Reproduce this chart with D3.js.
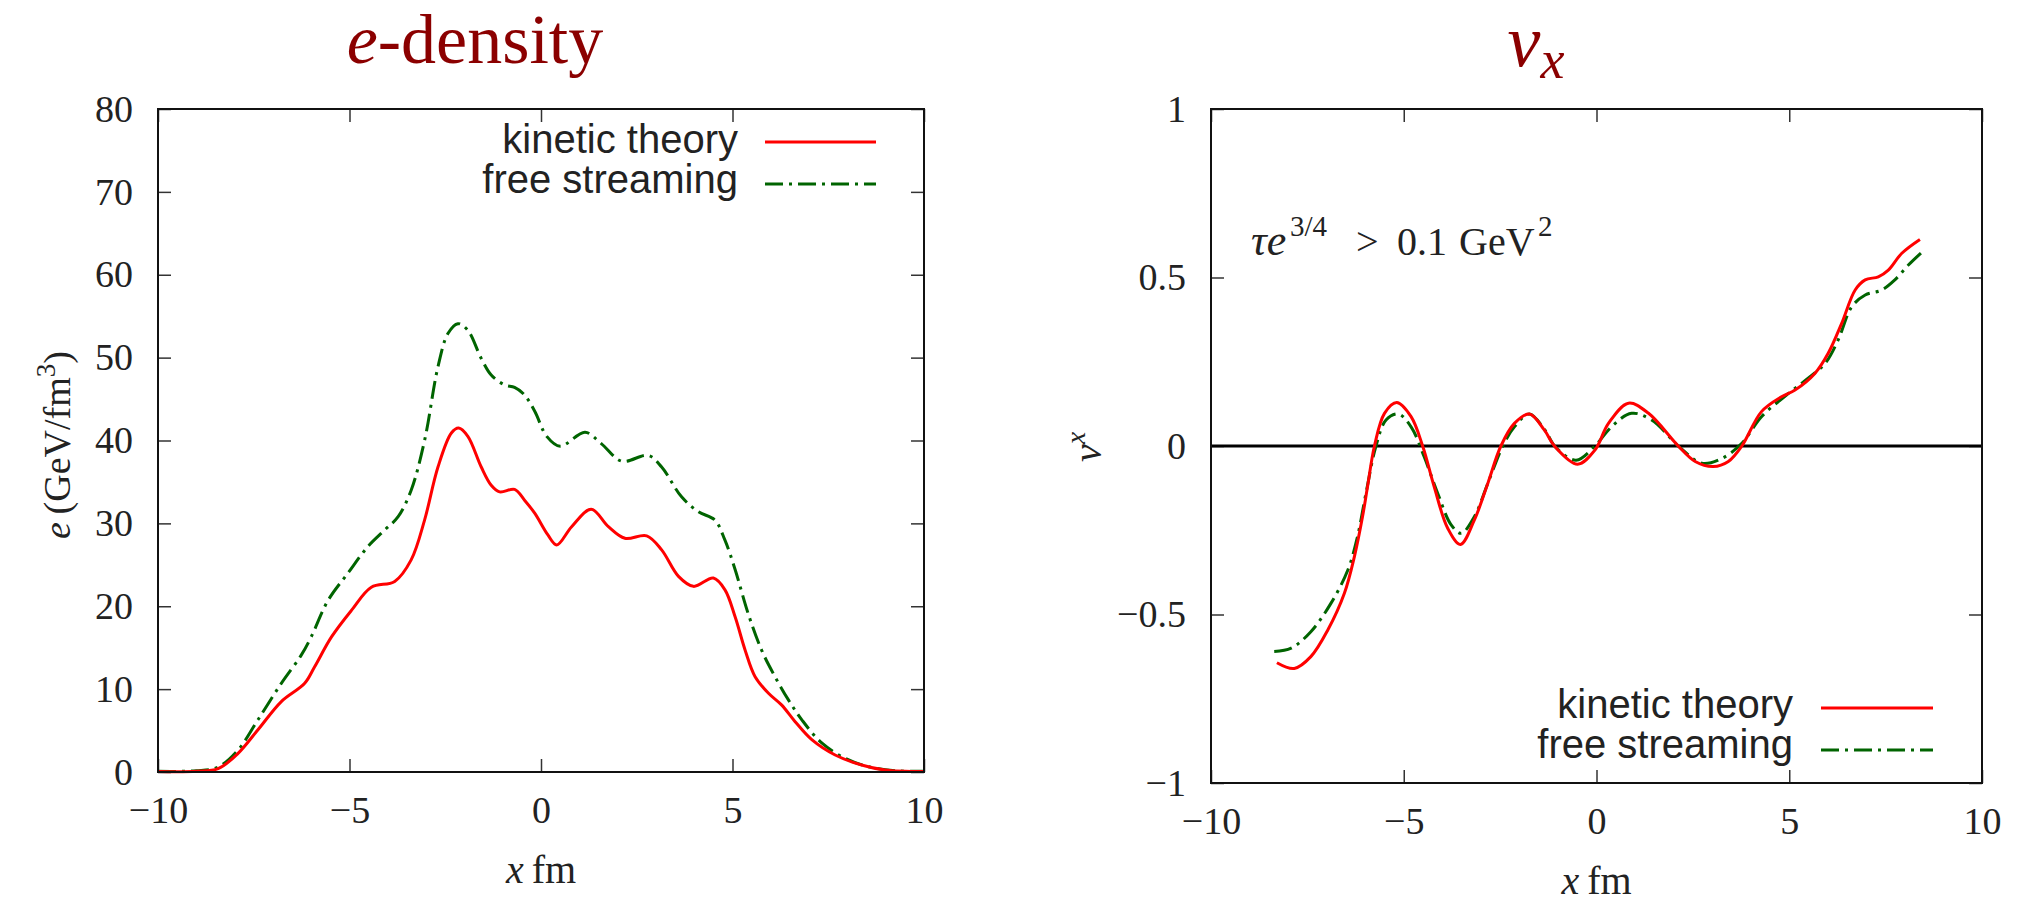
<!DOCTYPE html>
<html>
<head>
<meta charset="utf-8">
<script src="https://cdn.jsdelivr.net/npm/d3@7"></script>
<style>
  html, body { margin: 0; padding: 0; background: #fff; }
  svg { display: block; }
</style>
</head>
<body>
<svg id="chart" width="2019" height="902"></svg>
<script>
// ---------------- DATA ----------------
// Left panel: energy density e (GeV/fm^3) vs x (fm)
const xKineticE = [-10, -9, -8.43, -7.91, -7.39, -6.78, -6.17, -5.91, -5.47, -4.95, -4.43, -3.82, -3.39, -3.04, -2.69, -2.34, -2.15, -1.91, -1.56, -1.30, -1.08, -0.69, -0.43, -0.16, 0.18, 0.41, 0.80, 1.31, 1.76, 2.19, 2.76, 3.15, 3.59, 3.98, 4.50, 4.80, 5.07, 5.33, 5.59, 5.94, 6.28, 6.63, 7.07, 7.68, 8.37, 8.98, 10];
const eKinetic  = [0.05, 0.08, 0.4, 2.25, 5.1, 8.5, 10.7, 12.7, 16.3, 19.5, 22.3, 23.0, 25.6, 30.4, 36.8, 40.9, 41.5, 40.5, 36.8, 34.6, 33.8, 34.1, 32.8, 31.2, 28.6, 27.4, 29.6, 31.7, 29.6, 28.2, 28.5, 26.8, 23.6, 22.4, 23.4, 22.0, 18.7, 14.7, 11.5, 9.5, 8.1, 6.1, 3.9, 2.05, 0.84, 0.24, 0.05];

const xFreeE = [-10, -9, -8.43, -7.91, -7.39, -6.78, -6.26, -6.0, -5.56, -5.04, -4.52, -4.08, -3.73, -3.39, -3.04, -2.69, -2.43, -2.17, -1.91, -1.56, -1.30, -0.95, -0.69, -0.43, -0.16, 0.15, 0.50, 1.15, 1.58, 2.11, 2.80, 3.15, 3.67, 4.11, 4.54, 4.80, 5.07, 5.41, 5.76, 6.11, 6.46, 6.81, 7.33, 7.94, 8.55, 9.24, 10];
const eFree  = [0.08, 0.15, 0.6, 2.65, 6.3, 10.7, 14.1, 16.3, 20.7, 24.0, 27.2, 29.2, 30.8, 34.0, 40.0, 48.9, 52.9, 54.1, 53.3, 49.9, 47.9, 46.7, 46.4, 45.5, 43.5, 40.5, 39.3, 41.0, 39.6, 37.5, 38.2, 36.8, 33.2, 31.4, 30.4, 28.0, 24.4, 19.1, 14.7, 11.5, 8.7, 6.3, 3.5, 1.65, 0.64, 0.16, 0.08];

// Right panel: v^x vs x (fm)
const xKineticV = [-8.29, -7.84, -7.41, -6.97, -6.54, -6.28, -6.07, -5.94, -5.76, -5.50, -5.18, -4.81, -4.51, -4.21, -3.86, -3.53, -3.17, -2.82, -2.48, -2.13, -1.74, -1.35, -1.09, -0.49, -0.04, 0.31, 0.83, 1.35, 2.12, 2.56, 3.03, 3.42, 3.77, 4.28, 4.80, 5.15, 5.67, 6.01, 6.36, 6.71, 6.97, 7.31, 7.57, 7.92, 8.39];
const vKinetic  = [-0.643, -0.660, -0.625, -0.546, -0.437, -0.328, -0.210, -0.121, 0.0, 0.097, 0.129, 0.087, 0.0, -0.121, -0.244, -0.292, -0.220, -0.111, 0.0, 0.067, 0.095, 0.047, 0.0, -0.054, -0.012, 0.067, 0.127, 0.097, 0.0, -0.046, -0.061, -0.046, 0.0, 0.102, 0.146, 0.166, 0.216, 0.275, 0.364, 0.463, 0.493, 0.502, 0.522, 0.572, 0.613];

const xFreeV = [-8.36, -7.92, -7.41, -6.89, -6.45, -6.20, -5.98, -5.72, -5.46, -5.14, -4.81, -4.47, -4.12, -3.77, -3.51, -3.17, -2.82, -2.43, -2.13, -1.74, -1.35, -1.05, -0.53, -0.04, 0.39, 0.91, 1.43, 2.17, 2.73, 3.25, 3.77, 4.28, 4.98, 5.49, 5.93, 6.27, 6.62, 6.97, 7.40, 7.74, 8.09, 8.43];
const vFree  = [-0.610, -0.600, -0.551, -0.467, -0.368, -0.269, -0.140, 0.0, 0.077, 0.095, 0.057, -0.032, -0.140, -0.234, -0.259, -0.210, -0.111, 0.0, 0.057, 0.095, 0.049, -0.005, -0.042, 0.0, 0.057, 0.097, 0.077, -0.005, -0.051, -0.037, 0.008, 0.087, 0.156, 0.201, 0.245, 0.315, 0.413, 0.448, 0.463, 0.493, 0.537, 0.574];

const xTicks = [-10, -5, 0, 5, 10];
const eTicks = [0, 10, 20, 30, 40, 50, 60, 70, 80];
const vTicks = [-1, -0.5, 0, 0.5, 1];
const seriesNames = ["kinetic theory", "free streaming"];

// ---------------- STYLE ----------------
const RED = "#ff0000", GREEN = "#006400", TITLE = "#8b0000", INK = "#222222";
const SERIF = "'Liberation Serif', 'Times New Roman', serif";
const SANS = "'Liberation Sans', Arial, sans-serif";
const DASH = "18,6,3,6";

const svg = d3.select("#chart");

function panel(opt) {
  const g = svg.append("g");
  const x = d3.scaleLinear().domain([-10, 10]).range([opt.x0, opt.x1]);
  const y = d3.scaleLinear().domain(opt.ydom).range([opt.y1, opt.y0]);

  const styleAxis = (sel) => {
    sel.select(".domain").remove();
    sel.selectAll(".tick line").attr("stroke", "#333").attr("stroke-width", 1.5);
    sel.selectAll(".tick text").attr("font-family", SERIF).attr("font-size", 38).attr("fill", INK);
  };
  g.append("g").attr("transform", `translate(0,${opt.y1})`)
    .call(d3.axisBottom(x).tickValues(xTicks).tickSize(-13).tickPadding(24).tickFormat(d3.format("")))
    .call(styleAxis);
  g.append("g").attr("transform", `translate(0,${opt.y0})`)
    .call(d3.axisTop(x).tickValues(xTicks).tickSize(-13).tickFormat(""))
    .call(styleAxis);
  g.append("g").attr("transform", `translate(${opt.x0},0)`)
    .call(d3.axisLeft(y).tickValues(opt.yticks).tickSize(-13).tickPadding(25).tickFormat(d3.format("")))
    .call(styleAxis);
  g.append("g").attr("transform", `translate(${opt.x1},0)`)
    .call(d3.axisRight(y).tickValues(opt.yticks).tickSize(-13).tickFormat(""))
    .call(styleAxis);

  if (opt.zeroLine) {
    g.append("line").attr("x1", x(-10)).attr("x2", x(10)).attr("y1", y(0)).attr("y2", y(0))
      .attr("stroke", "#000").attr("stroke-width", 3);
  }

  const line = d3.line().x(d => x(d[0])).y(d => y(d[1])).curve(d3.curveCatmullRom.alpha(0.5));
  const s1 = opt.xs1.map((v, i) => [v, opt.ys1[i]]);
  const s2 = opt.xs2.map((v, i) => [v, opt.ys2[i]]);
  g.append("path").attr("d", line(s2)).attr("fill", "none").attr("stroke", GREEN)
    .attr("stroke-width", 3).attr("stroke-dasharray", DASH);
  g.append("path").attr("d", line(s1)).attr("fill", "none").attr("stroke", RED)
    .attr("stroke-width", 3);

  g.append("rect").attr("x", opt.x0).attr("y", opt.y0)
    .attr("width", opt.x1 - opt.x0).attr("height", opt.y1 - opt.y0)
    .attr("fill", "none").attr("stroke", "#111").attr("stroke-width", 2);

  const xl = g.append("text").attr("x", (opt.x0 + opt.x1) / 2).attr("y", opt.y1 + 111)
    .attr("text-anchor", "middle").attr("font-family", SERIF).attr("font-size", 40).attr("fill", INK);
  xl.append("tspan").attr("font-style", "italic").text("x");
  xl.append("tspan").text("\u2009fm");

  const L = opt.legend;
  [0, 1].forEach(i => {
    g.append("text").attr("x", L.tx).attr("y", L.ty[i]).attr("text-anchor", "end")
      .attr("font-family", SANS).attr("font-size", 40).attr("fill", INK).text(seriesNames[i]);
    g.append("line").attr("x1", L.lx0).attr("x2", L.lx1).attr("y1", L.ly[i]).attr("y2", L.ly[i])
      .attr("stroke", i === 0 ? RED : GREEN).attr("stroke-width", 3)
      .attr("stroke-dasharray", i === 0 ? null : DASH);
  });
  return { g, x, y };
}

panel({
  x0: 158, x1: 924, y0: 109, y1: 772, ydom: [0, 80], yticks: eTicks,
  xs1: xKineticE, ys1: eKinetic, xs2: xFreeE, ys2: eFree, zeroLine: false,
  legend: { tx: 738, ty: [153, 193], lx0: 765, lx1: 876, ly: [142, 184] }
});

panel({
  x0: 1211, x1: 1982, y0: 109, y1: 783, ydom: [-1, 1], yticks: vTicks,
  xs1: xKineticV, ys1: vKinetic, xs2: xFreeV, ys2: vFree, zeroLine: true,
  legend: { tx: 1793, ty: [718, 758], lx0: 1821, lx1: 1933, ly: [708, 750] }
});

// Titles
const t1 = svg.append("text").attr("x", 475).attr("y", 63).attr("text-anchor", "middle")
  .attr("font-family", SERIF).attr("font-size", 70).attr("fill", TITLE);
t1.append("tspan").attr("font-style", "italic").text("e");
t1.append("tspan").text("-density");

const t2 = svg.append("text").attr("x", 1536).attr("y", 66).attr("text-anchor", "middle")
  .attr("font-family", SERIF).attr("font-size", 74).attr("fill", TITLE);
t2.append("tspan").attr("font-style", "italic").text("v");
t2.append("tspan").attr("font-style", "italic").attr("font-size", 54).attr("dy", 12).text("x");

// Y labels
const yl1 = svg.append("text").attr("transform", "translate(70,445) rotate(-90)")
  .attr("text-anchor", "middle").attr("font-family", SERIF).attr("font-size", 38).attr("fill", INK);
yl1.append("tspan").attr("font-style", "italic").text("e");
yl1.append("tspan").text("\u2009(GeV/fm");
yl1.append("tspan").attr("font-size", 27).attr("dy", -15).text("3");
yl1.append("tspan").attr("dy", 15).text(")");

const yl2 = svg.append("text").attr("transform", "translate(1101,447) rotate(-90)")
  .attr("text-anchor", "middle").attr("font-family", SERIF).attr("font-size", 40).attr("fill", INK);
yl2.append("tspan").attr("font-style", "italic").text("v");
yl2.append("tspan").attr("font-style", "italic").attr("font-size", 28).attr("dy", -16).text("x");

// Annotation (parts placed to mimic math spacing)
const an = svg.append("text").attr("y", 255)
  .attr("font-family", SERIF).attr("font-size", 40).attr("fill", INK);
an.append("tspan").attr("x", 1251).attr("font-style", "italic").attr("font-size", 44).text("\u03C4e");
an.append("tspan").attr("x", 1290).attr("y", 236).attr("font-size", 29).text("3/4");
an.append("tspan").attr("x", 1356).attr("y", 255).text(">");
an.append("tspan").attr("x", 1397).attr("y", 255).text("0.1");
an.append("tspan").attr("x", 1459).attr("y", 255).text("GeV");
an.append("tspan").attr("x", 1538).attr("y", 236).attr("font-size", 29).text("2");
</script>
</body>
</html>
